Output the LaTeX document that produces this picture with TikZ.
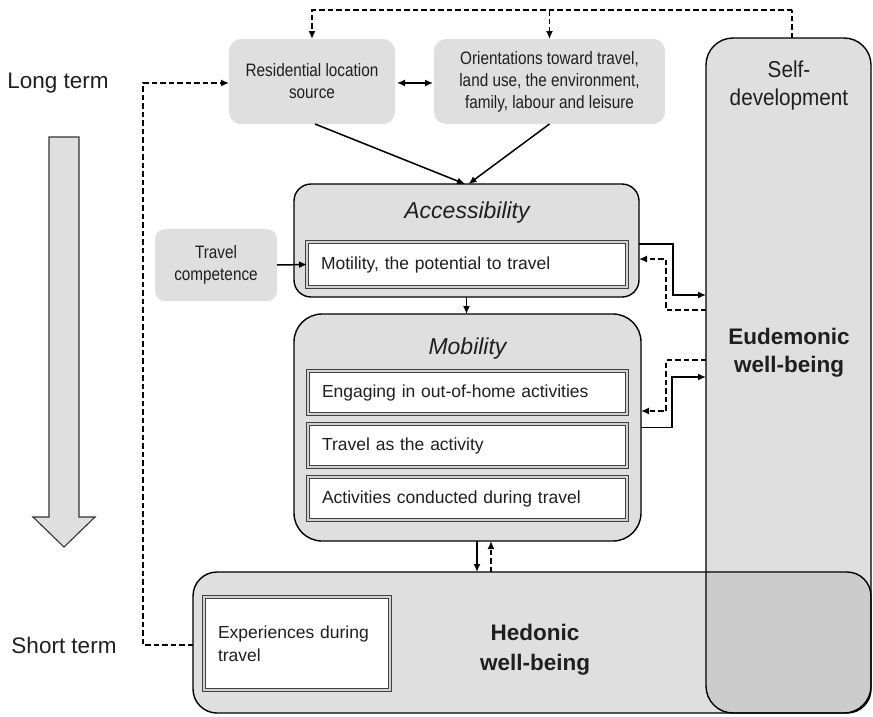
\documentclass[tikz,border=0pt]{standalone}
\usepackage{fontspec}
\setmainfont{Liberation Sans}
\newfontfamily\narrowfont[FakeStretch=0.85]{Liberation Sans}
\newfontfamily\narrowfontB[FakeStretch=0.9]{Liberation Sans}
\usetikzlibrary{arrows.meta}
\definecolor{boxgray}{gray}{0.875}
\definecolor{overlapgray}{gray}{0.80}
\definecolor{txt}{gray}{0.12}
\tikzset{
  graybox/.style={fill=boxgray, rounded corners=12pt, inner sep=0pt, outer sep=0pt,
    anchor=north west, align=center, text=txt,
    font=\narrowfont\fontsize{18}{22}\selectfont},
  bigbox/.style={draw, line width=1.4pt, fill=boxgray, inner sep=0pt, outer sep=0pt,
    anchor=north west},
  dbox/.style={draw=black!75, double=gray!35, double distance=1.8pt, line width=0.9pt,
    fill=white, anchor=north west, inner xsep=14pt, inner ysep=0pt, outer sep=0pt,
    align=left, text=txt, font=\fontsize{17.5}{23}\selectfont},
  conn/.style={line width=1.5pt, -{Latex[length=8pt,width=7pt]}},
  dconn/.style={conn, dash pattern=on 5.5pt off 3pt},
  dplain/.style={line width=1.5pt, dash pattern=on 5.5pt off 3pt},
  bigtext/.style={font=\fontsize{22.5}{28}\selectfont, text=txt, align=center},
}
\begin{document}
\begin{tikzpicture}[x=1pt, y=-1pt]
\useasboundingbox (0,0) rectangle (873,716);

% background wellbeing boxes
\node[fill=boxgray, inner sep=0pt, outer sep=0pt, rounded corners=27pt, anchor=north west,
      minimum width=165pt, minimum height=675pt] (eud) at (706,38) {};
\node[fill=boxgray, inner sep=0pt, outer sep=0pt, rounded corners=24pt, anchor=north west,
      minimum width=678pt, minimum height=141pt] (hed) at (193,572) {};
\begin{scope}
  \clip[rounded corners=27pt] (eud.north west) rectangle (eud.south east);
  \fill[overlapgray, rounded corners=24pt] (hed.north west) rectangle (hed.south east);
\end{scope}
\draw[line width=1.4pt, rounded corners=27pt] (eud.north west) rectangle (eud.south east);
\draw[line width=1.4pt, rounded corners=24pt] (hed.north west) rectangle (hed.south east);

% time arrow
\draw[fill=boxgray, draw=black!80, line width=1.1pt]
  (49,137) -- (79,137) -- (79,517) -- (95,517) -- (64,547) -- (33,517) -- (49,517) -- cycle;
\node[bigtext] (lt) at (58,83) {Long term};
\node[bigtext] (st) at (64,645) {Short term};

% top boxes
\node[graybox, minimum width=166pt, minimum height=85pt] (res) at (229,39)
  {Residential location\\source};
\node[graybox, minimum width=231pt, minimum height=85pt] (ori) at (434,39)
  {Orientations toward travel,\\land use, the environment,\\family, labour and leisure};
\node[graybox, rounded corners=10pt, minimum width=122pt, minimum height=72pt] (tc) at (155,229)
  {Travel\\competence};

% accessibility
\node[bigbox, rounded corners=17pt, minimum width=345pt, minimum height=113pt] (acc) at (294,184) {};
\node[font=\itshape\fontsize{23}{28}\selectfont, text=txt] (acct) at (467,213) {Accessibility};
\node[dbox, minimum width=320pt, text width=292pt, minimum height=45pt] (mot) at (307,242)
  {Motility, the potential to travel};

% mobility
\node[bigbox, rounded corners=28pt, minimum width=347pt, minimum height=227pt] (mob) at (294,314) {};
\node[font=\itshape\fontsize{23}{28}\selectfont, text=txt] (mobt) at (467.5,349) {Mobility};
\node[dbox, minimum width=319pt, text width=291pt, minimum height=43pt] (eng) at (308,371)
  {Engaging in out-of-home activities};
\node[dbox, minimum width=319pt, text width=291pt, minimum height=43pt] (tra) at (308,424)
  {Travel as the activity};
\node[dbox, minimum width=319pt, text width=291pt, minimum height=43pt] (adt) at (308,477)
  {Activities conducted during travel};

% hedonic content
\node[dbox, minimum width=186pt, text width=158pt, minimum height=93pt] (exp) at (204,597)
  {Experiences during\\travel};
\node[bigtext, font=\bfseries\fontsize{22.5}{30}\selectfont] (hedt) at (535,650) {Hedonic\\well-being};

% eudemonic content
\node[bigtext, font=\narrowfontB\fontsize{23}{28}\selectfont] (sd) at (789,86) {Self-\\development};
\node[bigtext, font=\bfseries\fontsize{22.5}{28}\selectfont] (eudt) at (789,353) {Eudemonic\\well-being};

% connectors
\coordinate (topline) at ([xshift=3.5pt,yshift=28pt]eud.north);
\draw[dplain] ([xshift=3.5pt]eud.north) -- (topline);
\draw[dconn] (topline) -| (res.north);
\draw[dconn] (ori.north |- topline) -- (ori.north);

\draw[conn, {Latex[length=8pt,width=7pt]}-{Latex[length=8pt,width=7pt]}]
  ([xshift=2pt,yshift=-1.5pt]res.east) -- ([xshift=-1pt,yshift=-1.5pt]ori.west);

\draw[conn] ([xshift=3pt]res.south) -- ([xshift=-1.5pt]acc.north);
\draw[conn] (ori.south) -- ([xshift=2pt]acc.north);

\draw[conn] (tc.east) -- (mot.west);
\draw[conn] (acc.south) -- (acc.south |- mob.north);

\draw[conn] ([yshift=-3.5pt]acc.east) -- ++(34,0) |- ([yshift=80.5pt]eud.west);
\draw[dconn] ([yshift=65.5pt]eud.west) -- ++(-40,0) |- ([yshift=-18.5pt]acc.east);

\draw[conn] (mob.east) -- ++(31,0) |- ([yshift=-1.5pt]eud.west);
\draw[dconn] ([yshift=15.5pt]eud.west) -- ++(-40,0) |- ([yshift=16.5pt]mob.east);

\draw[conn] ([xshift=9.5pt]mob.south) -- ([xshift=9.5pt]mob.south |- hed.north);
\draw[dconn] ([xshift=23.5pt]mob.south |- hed.north) -- ([xshift=23.5pt]mob.south);

\draw[dconn] ([yshift=-2.5pt]hed.west) -- ++(-50,0) |- ([yshift=-1.5pt]res.west);
\end{tikzpicture}
\end{document}
